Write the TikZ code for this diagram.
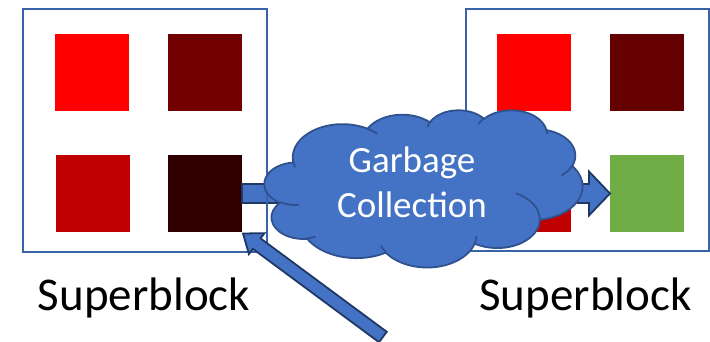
\documentclass[tikz,border=0pt]{standalone}
\usepackage{fontspec}
\setmainfont{Carlito}
\usetikzlibrary{calc}

\definecolor{boxline}{HTML}{3A62A6}
\definecolor{cloudfill}{HTML}{4472C4}
\definecolor{cloudline}{HTML}{2F528F}
\definecolor{arrowline}{HTML}{203864}
\definecolor{pageA}{HTML}{FF0000}
\definecolor{pageB}{HTML}{720000}
\definecolor{pageC}{HTML}{C00000}
\definecolor{pageD}{HTML}{300000}
\definecolor{pageE}{HTML}{640000}
\definecolor{pageF}{HTML}{70AD47}

% Elliptic arc given by its radii and by visual (not parametric) start
% angle and sweep, as used by the cloud outline below.
\tikzset{cldarc/.code n args={4}{%
  \pgfmathsetmacro\cldts{atan2((#1)*sin(#3),(#2)*cos(#3))}%
  \pgfmathsetmacro\cldte{atan2((#1)*sin(#3+#4),(#2)*cos(#3+#4))}%
  \pgfmathsetmacro\cldte{\cldte+360*ceil((\cldts-\cldte)/360)}%
  \edef\cldtmp{\noexpand\tikzset{insert path={arc[start angle=\cldts,
      end angle=\cldte, x radius=#1, y radius=#2]}}}%
  \cldtmp}}

\begin{document}
\begin{tikzpicture}[x=1pt,y=-1pt,
  sblock/.style={draw=boxline, line width=1.8pt},
  page/.style={minimum width=74pt, minimum height=77pt, inner sep=0pt,
    outer sep=0pt},
  barrow/.style={fill=cloudfill, draw=arrowline, line width=1.8pt,
    line join=miter},
  cloudshape/.style={fill=cloudfill, draw=cloudline, line width=1.8pt},
  cloudcrease/.style={draw=cloudline, line width=1.8pt},
  caption/.style={anchor=base, inner sep=0pt, font=\fontsize{47}{50}\selectfont},
  gclabel/.style={anchor=base, inner sep=0pt, text=white,
    font=\fontsize{37}{45}\selectfont}]
\useasboundingbox (0,0) rectangle (710,342);

% pages of the left superblock
\node[page, fill=pageA] (l1) at (92,72.5) {};
\node[page, fill=pageB] (l2) at (205,72.5) {};
\node[page, fill=pageC] (l3) at (93,193.5) {};
\node[page, fill=pageD] (l4) at (205,193.5) {};

% pages of the right superblock
\node[page, fill=pageA] (r1) at (534,72.5) {};
\node[page, fill=pageE] (r2) at (647,72.5) {};
\node[page, fill=pageC] (r3) at (534,193.5) {};
\node[page, fill=pageF] (r4) at (647,193.5) {};

% page moved by garbage collection
\draw[barrow] ($(l4.east)+(0,-9.5)$) -- ($(r4.west)+(-21,-9.5)$)
  -- ($(r4.west)+(-21,-22)$) -- (r4.west) -- ($(r4.west)+(-21,22)$)
  -- ($(r4.west)+(-21,9.5)$) -- ($(l4.east)+(0,9.5)$) -- cycle;

% superblock frames
\draw[sblock] (23,9) rectangle (267,252);
\draw[sblock] (466,9) rectangle (709,251);

% pointer to the page being collected
\coordinate (dtip) at ($(l4.south east)+(1,1.5)$);
\begin{scope}[shift={(dtip)}, rotate=-36.5]
  \draw[barrow] (0,0) -- (17,-13) -- (17,-6.5) -- (174,-6.5) -- (174,6.5)
    -- (17,6.5) -- (17,13) -- cycle;
\end{scope}

% cloud
\begin{scope}[shift={(264.5,109.8)}, x=0.7360pt, y=-0.3638pt]
  \path[cloudshape] (39.00,143.70)
    [cldarc={67.53}{91.90}{-190.4875}{123.7805}]
    [cldarc={53.33}{72.67}{-144.1024}{89.9452}]
    [cldarc={43.65}{59.45}{-145.8079}{99.7230}]
    [cldarc={48.57}{65.95}{-130.9861}{117.2417}]
    [cldarc={53.33}{72.73}{-78.7089}{109.0269}]
    [cldarc={67.75}{92.20}{-46.2673}{130.2690}]
    [cldarc={57.85}{78.67}{0.6250}{114.0333}]
    [cldarc={67.52}{92.15}{22.4516}{115.1726}]
    [cldarc={77.20}{105.43}{66.2426}{75.7110}]
    [cldarc={43.60}{59.18}{-274.9421}{146.7356}]
    [cldarc={43.45}{59.45}{-246.8285}{152.5220}]
    -- cycle;
  \path[cloudcrease]
    (46.93,261.77) [cldarc={43.45}{59.45}{86.7420}{26.4295}]
    (69.28,348.99) [cldarc={43.60}{59.18}{73.6105}{11.4475}]
    (164.78,390.90) [cldarc={67.52}{92.15}{137.6242}{14.0811}]
    (288.27,347.51) [cldarc={67.52}{92.15}{6.4533}{15.9984}]
    (341.29,229.54) [cldarc={57.85}{78.67}{-70.2924}{70.9174}]
    (417.98,153.54) [cldarc={53.33}{72.73}{30.3180}{27.7515}]
    (383.24,54.26) [cldarc={48.57}{65.95}{-13.7443}{14.8589}]
    (290.78,39.52) [cldarc={48.57}{65.95}{-149.1815}{18.1954}]
    (221.41,47.20) [cldarc={43.65}{59.45}{-163.4943}{17.6864}]
    (140.00,51.92) [cldarc={67.53}{91.90}{-66.7070}{12.3194}]
    (41.27,157.89) [cldarc={67.53}{91.90}{157.6544}{11.8582}];
\end{scope}
\node[gclabel] (gc1) at (412,173) {Garbage};
\node[gclabel] (gc2) at (412,218) {Collection};

% captions
\node[caption] (capl) at (144,310) {Superblock};
\node[caption] (capr) at (585.5,310) {Superblock};
\end{tikzpicture}
\end{document}
